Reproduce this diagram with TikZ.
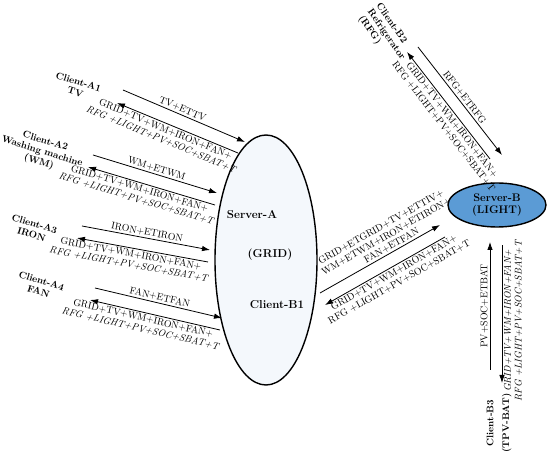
\documentclass[tikz,border=0pt]{standalone}
\usetikzlibrary{arrows.meta,positioning,shapes}
\definecolor{gridfill}{RGB}{244,248,252}
\definecolor{lightfill}{RGB}{91,155,213}

\begin{document}
\begin{tikzpicture}[x=1pt, y=-1pt,
    lbl/.style={font=\fontsize{9.8}{10.8}\selectfont, inner sep=1.5pt},
    cli/.style={font=\fontsize{9.6}{10.8}\selectfont\bfseries, align=center, inner sep=0pt},
    srv/.style={font=\fontsize{11.5}{13}\selectfont\bfseries, inner sep=0pt},
    msg/.style={-{Latex[length=8pt,width=5.5pt]}, line width=0.8pt},
    ret/.style={{Latex[length=8pt,width=5.5pt]}-, line width=0.8pt}]
  \useasboundingbox (0,0) rectangle (550,457);

  % servers
  \node (srvA) [ellipse, draw, line width=1.4pt, fill=gridfill, minimum width=102pt, minimum height=250pt] at (266,260) {};
  \node[srv] (srvAname) at (252,215) {Server-A};
  \node[srv] (gridA) at (270,255) {(GRID)};
  \node[srv] (cliB1) at (277,305) {Client-B1};
  \node (srvB) [ellipse, draw, line width=1.4pt, fill=lightfill, minimum width=98pt, minimum height=44pt,
                srv, font=\fontsize{11}{12.5}\selectfont\bfseries, align=center] at (497,205) {Server-B\\(LIGHT)};

  % clients
  \node[cli, rotate=-17] (cA1) at (77,87) {Client-A1\\TV};
  \node[cli, rotate=-17] (cA2) at (42,152) {Client-A2\\Washing machine\\(WM)};
  \node[cli, rotate=-17] (cA3) at (33,229) {Client-A3\\IRON};
  \node[cli, rotate=-17] (cA4) at (40,286) {Client-A4\\FAN};
  \node[cli, rotate=-55, align=left] (cB2) at (386,35) {Client-B2\\Refrigerator\\(RFG)};
  \node[cli, rotate=90] (cB3) at (499,423) {Client-B3\\[5pt](TPV-BAT)};

  % A side
  \coordinate (a1s) at (123,90);  \coordinate (a1e) at (245,142);
  \coordinate (a1h) at (117,103); \coordinate (a1t) at (238,153);
  \draw[msg] (a1s) -- node[lbl, above, sloped, pos=0.47] {TV+ETTV} (a1e);
  \draw[ret] (a1h) -- node[lbl, below, sloped, align=center, pos=0.42] {GRID+TV+WM+IRON+FAN+\\\textit{RFG +LIGHT+PV+SOC+SBAT+T}} (a1t);

  \coordinate (a2s) at (93,155);  \coordinate (a2e) at (217,193);
  \coordinate (a2h) at (88,167);  \coordinate (a2t) at (215,205);
  \draw[msg] (a2s) -- node[lbl, above, sloped] {WM+ETWM} (a2e);
  \draw[ret] (a2h) -- node[lbl, below, sloped, align=center, pos=0.42] {GRID+TV+WM+IRON+FAN+\\\textit{RFG +LIGHT+PV+SOC+SBAT+T}} (a2t);

  \coordinate (a3s) at (82,226);  \coordinate (a3e) at (210,250);
  \coordinate (a3h) at (77,238);  \coordinate (a3t) at (208,262);
  \draw[msg] (a3s) -- node[lbl, above, sloped] {IRON+ETIRON} (a3e);
  \draw[ret] (a3h) -- node[lbl, below, sloped, align=center, pos=0.42] {GRID+TV+WM+IRON+FAN+\\\textit{RFG +LIGHT+PV+SOC+SBAT+T}} (a3t);

  \coordinate (a4s) at (95,288);  \coordinate (a4e) at (222,318);
  \coordinate (a4h) at (90,300);  \coordinate (a4t) at (220,330);
  \draw[msg] (a4s) -- node[lbl, above, sloped] {FAN+ETFAN} (a4e);
  \draw[ret] (a4h) -- node[lbl, below, sloped, align=center, pos=0.42] {GRID+TV+WM+IRON+FAN+\\\textit{RFG +LIGHT+PV+SOC+SBAT+T}} (a4t);

  % B side
  \coordinate (b1s) at (320,293); \coordinate (b1e) at (440,225);
  \coordinate (b1h) at (325,305); \coordinate (b1t) at (445,237);
  \draw[msg] (b1s) -- node[lbl, above, sloped, align=center, pos=0.62] {GRID+ETGRID+TV+ETTIV+\\WM+ETWM+IRON+ETIRON+\\FAN+ETFAN} (b1e);
  \draw[ret] (b1h) -- node[lbl, below, sloped, align=center, pos=0.55] {GRID+TV+WM+IRON+FAN+\\RFG +LIGHT+PV+SOC+SBAT+T} (b1t);

  \coordinate (b2s) at (418,47);  \coordinate (b2e) at (502,155);
  \coordinate (b2h) at (407,52);  \coordinate (b2t) at (490,159);
  \draw[msg] (b2s) -- node[lbl, above, sloped] {RFG+ETRFG} (b2e);
  \draw[ret] (b2h) -- node[lbl, below, sloped, align=center, pos=0.6] {GRID+TV+WM+IRON+FAN+\\RFG +LIGHT+PV+SOC+SBAT+T} (b2t);

  \coordinate (b3s) at (490,370); \coordinate (b3e) at (490,242);
  \coordinate (b3h) at (502,383); \coordinate (b3t) at (502,245);
  \draw[msg] (b3s) -- node[lbl, above, sloped] {PV+SOC+ETBAT} (b3e);
  \draw[ret] (b3h) -- node[lbl, below, sloped, align=center, pos=0.45, font=\fontsize{9.8}{10.8}\selectfont\itshape] {GRID+TV+WM+IRON+FAN+\\RFG +LIGHT+PV+SOC+SBAT+T} (b3t);
\end{tikzpicture}
\end{document}
